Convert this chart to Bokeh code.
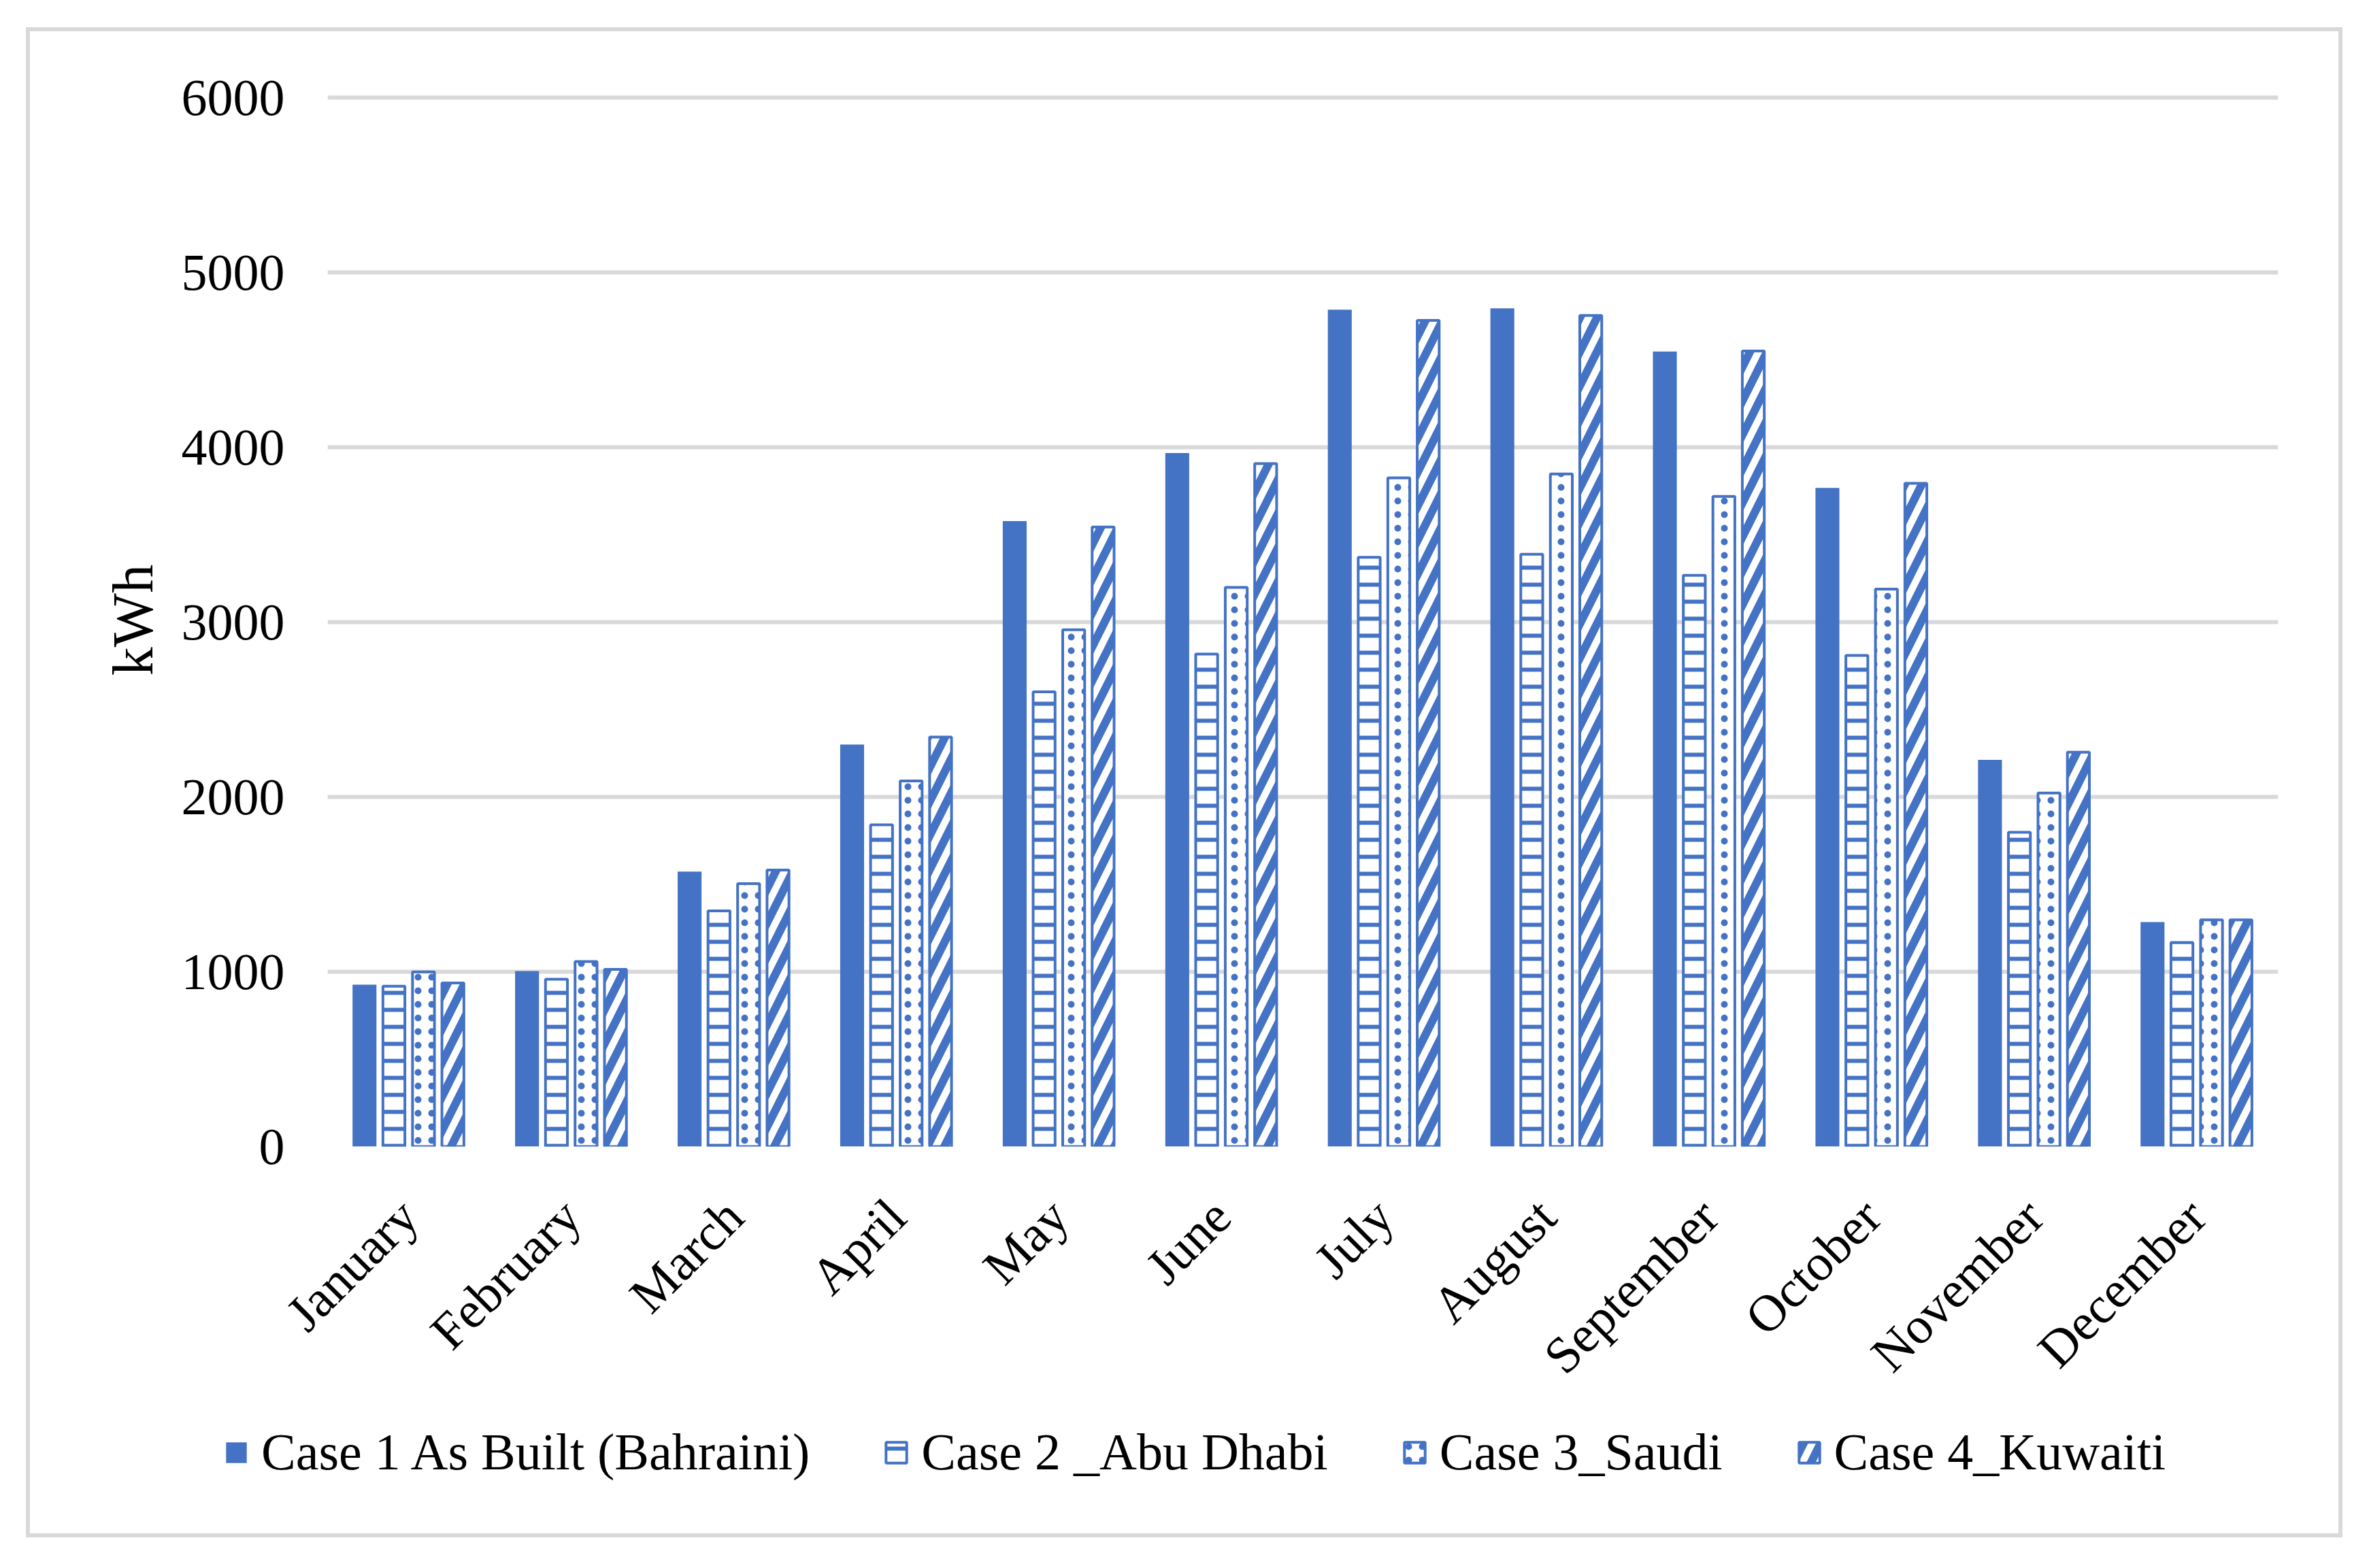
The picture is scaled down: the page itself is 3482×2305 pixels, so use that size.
import math
from bokeh.plotting import figure
from bokeh.layouts import column
from bokeh.models import (ColumnDataSource, FactorRange, Range1d, SingleIntervalTicker,
                          Legend, LegendItem)
from bokeh.transform import dodge
from bokeh.embed import file_html
from bokeh.resources import INLINE

months = ["January", "February", "March", "April", "May", "June", "July",
          "August", "September", "October", "November", "December"]
case1 = [926, 1004, 1573, 2300, 3579, 3968, 4788, 4796, 4549, 3769, 2213, 1284]
case2 = [918, 957, 1349, 1841, 2602, 2818, 3372, 3389, 3268, 2810, 1798, 1168]
case3 = [999, 1059, 1504, 2092, 2957, 3199, 3826, 3848, 3720, 3190, 2023, 1297]
case4 = [936, 1014, 1582, 2343, 3545, 3908, 4727, 4755, 4552, 3795, 2256, 1297]
labels = ["Case 1 As Built (Bahraini)", "Case 2 _Abu Dhabi", "Case 3_Saudi", "Case 4_Kuwaiti"]
y_ticks_interval = 1000

BLUE = "#4472C4"
GRID = "#d9d9d9"
FONT = "Liberation Serif"

styles = [
    dict(fill_color=BLUE, line_color=None),
    dict(fill_color="white", line_color=BLUE, line_width=4,
         hatch_pattern="horizontal_line", hatch_color=BLUE, hatch_scale=25, hatch_weight=6),
    dict(fill_color="white", line_color=BLUE, line_width=4,
         hatch_pattern="dot", hatch_color=BLUE, hatch_scale=20, hatch_weight=6),
    dict(fill_color="white", line_color=BLUE, line_width=4,
         hatch_pattern="right_diagonal_line", hatch_color=BLUE, hatch_scale=50, hatch_weight=12),
]

src = ColumnDataSource(dict(month=months, c1=case1, c2=case2, c3=case3, c4=case4))

p = figure(width=3393, height=2039, x_range=FactorRange(*months), y_range=Range1d(0, 6025),
           output_backend="svg", toolbar_location=None,
           min_border_left=437, min_border_right=89, min_border_top=91, min_border_bottom=400)
p.outline_line_color = None
p.background_fill_color = "white"
p.border_fill_color = "white"

offsets = [-0.273, -0.092, 0.09, 0.271]
widths = [0.147, 0.135, 0.135, 0.135]
cols = ["c1", "c2", "c3", "c4"]
for off, w, c, st in zip(offsets, widths, cols, styles):
    p.vbar(x=dodge("month", off, range=p.x_range), top=c, width=w, source=src, **st)

# axes
xa = p.xaxis[0]
xa.axis_line_color = None
xa.major_tick_line_color = None
xa.minor_tick_line_color = None
xa.major_tick_out = 0
xa.major_label_orientation = math.pi / 4
xa.major_label_text_font = FONT
xa.major_label_text_font_size = "76px"
xa.major_label_text_color = "black"
xa.major_label_standoff = 90

ya = p.yaxis[0]
ya.ticker = SingleIntervalTicker(interval=y_ticks_interval, num_minor_ticks=0)
ya.axis_line_color = None
ya.major_tick_line_color = None
ya.minor_tick_line_color = None
ya.major_label_text_font = FONT
ya.major_label_text_font_size = "76px"
ya.major_label_text_color = "black"
ya.major_label_standoff = 57
ya.axis_label = "kWh"
ya.axis_label_text_font = FONT
ya.axis_label_text_font_size = "84px"
ya.axis_label_text_font_style = "normal"
ya.axis_label_text_color = "black"
ya.axis_label_standoff = 22

p.xgrid.grid_line_color = None
p.ygrid.grid_line_color = GRID
p.ygrid.grid_line_width = 6
p.ygrid.ticker = SingleIntervalTicker(interval=y_ticks_interval, num_minor_ticks=0)

# legend strip (same chart area, below the month labels)
pl = figure(width=3393, height=169, x_range=Range1d(0, 1), y_range=Range1d(0, 1),
            output_backend="svg", toolbar_location=None,
            x_axis_location=None, y_axis_location=None, min_border=0)
pl.outline_line_color = None
pl.grid.visible = False
items = []
for lab, st in zip(labels, styles):
    # hidden swatch renderer: only its legend swatch is drawn
    r = pl.vbar(x=[5], top=[1], width=0.1, **st)
    r.visible = False
    items.append(LegendItem(label=lab, renderers=[r]))
legend = Legend(items=items, orientation="horizontal", location=(284, 76))
legend.label_text_font = FONT
legend.label_text_font_size = "76px"
legend.label_text_color = "black"
legend.glyph_width = 38
legend.glyph_height = 38
legend.label_standoff = 18
legend.spacing = 108
legend.padding = 0
legend.margin = 0
legend.border_line_color = None
legend.background_fill_alpha = 0
legend.click_policy = "none"
pl.add_layout(legend)

for f in (p, pl):
    if "frame_align" in f.properties():
        f.frame_align = False

layout = column(p, pl, spacing=0)
layout.margin = (40, 0, 0, 38)
layout.styles = {"border": "6px solid #d9d9d9"}

open("out.html", "w").write(file_html(layout, INLINE))
